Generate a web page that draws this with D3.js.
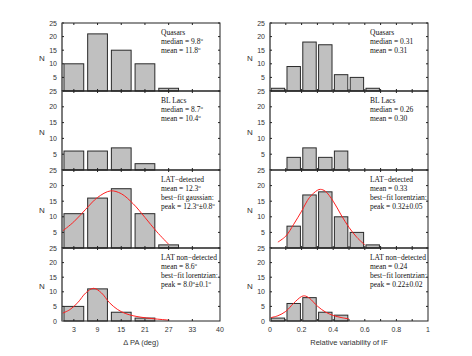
<!DOCTYPE html>
<html>
<head>
<meta charset="utf-8">
<script src="https://cdnjs.cloudflare.com/ajax/libs/d3/7.8.5/d3.min.js"></script>
<style>
  body { margin: 0; background: #fff; }
  svg { display: block; }
  .tick-lbl { font-family: "Liberation Sans", Arial, sans-serif; font-size: 7px; fill: #333; }
  .note { font-family: "Liberation Serif", "Times New Roman", serif; font-size: 7.5px; fill: #111; }
</style>
</head>
<body>
<div class="chart"></div>
<script>
// ---- data ----
var paBinCenters = [3, 9, 15, 21, 27];
var paQuasars = [10, 21, 15, 10, 1];
var paBLLacs  = [6, 6, 7, 2, 0];
var paLatDet  = [11, 16, 19, 11, 1];
var paLatNon  = [5, 11, 3, 1, 0];
var paTicks = [3, 9, 15, 21, 27, 33, 40];

var varBinStarts = [0, 0.1, 0.2, 0.3, 0.4, 0.5, 0.6];
var varQuasars = [1, 9, 18, 17, 6, 5, 1];
var varBLLacs  = [0, 4, 7, 4, 6, 0, 0];
var varLatDet  = [0, 7, 17, 18, 10, 5, 1];
var varLatNon  = [1, 6, 8, 3, 2, 0, 0];
var varTicks = [0, 0.2, 0.4, 0.6, 0.8, 1];
var varMinorTicks = [0.1, 0.2, 0.3, 0.4, 0.5, 0.6, 0.7, 0.8, 0.9];

var nTicks = [5, 10, 15, 20, 25];

// fitted curves, points
var paGaussDet = [[0,5.3],[3,8.4],[6,12.4],[9,16.2],[12.3,18.3],[15,17.4],[18,14.2],[21,9.8],[24,5.2],[27,1.2]];
var paLorNon = [[0,2.6],[2,3.9],[4,6.3],[6,9.6],[8,11.2],[10,9.6],[12,6.3],[14,4],[16,2.6],[18,1.8],[20,1.3],[23,0.8],[27,0.3]];
var varLorDet = [[0.05,1.9],[0.1,3.8],[0.15,7.6],[0.2,11.8],[0.25,16.2],[0.3,18.5],[0.32,18.8],[0.35,18.2],[0.4,15],[0.45,10.6],[0.5,6.6],[0.55,3.4],[0.6,1]];
var varLorNon = [[0,1.1],[0.05,1.8],[0.1,3.3],[0.15,6.1],[0.2,8.4],[0.22,8.6],[0.25,7.8],[0.3,5.1],[0.35,3.1],[0.4,1.9],[0.45,1.2],[0.5,0.7]];

// "|o|" marks a superscript degree "o"
var paNotes = [
  ["Quasars", "median = 9.8|o", "mean = 11.8|o"],
  ["BL Lacs", "median = 8.7|o", "mean = 10.4|o"],
  ["LAT\u2212detected", "mean = 12.3|o", "best\u2212fit gaussian:", "peak = 12.3|o|\u00b10.8|o"],
  ["LAT non\u2212detected", "mean = 8.6|o", "best\u2212fit lorentzian:", "peak = 8.0|o|\u00b10.1|o"]
];
var varNotes = [
  ["Quasars", "median = 0.31", "mean = 0.31"],
  ["BL Lacs", "median = 0.26", "mean = 0.30"],
  ["LAT\u2212detected", "mean = 0.33", "best\u2212fit lorentzian:", "peak = 0.32\u00b10.05"],
  ["LAT non\u2212detected", "mean = 0.24", "best\u2212fit lorentzian:", "peak = 0.22\u00b10.02"]
];

var width = 472, height = 356;
var rowEdges = [23, 91, 170, 248, 321];

var svg = d3.select(".chart").append("svg")
  .attr("width", width)
  .attr("height", height);

var xPA = d3.scaleLinear().domain([0, 40]).range([62, 220]);
var xVar = d3.scaleLinear().domain([0, 1]).range([270, 428]);

function drawColumn(x, rows, binStart, binWidth, barW, curves, notes, ticks, minor, noteX, title) {
  var x0 = x.range()[0], x1 = x.range()[1];
  rows.forEach(function(counts, r) {
    var y = d3.scaleLinear().domain([0, 25]).range([rowEdges[r + 1], rowEdges[r]]);
    var g = svg.append("g").attr("class", "panel");

    // bars
    g.selectAll("rect.bar")
      .data(counts.map(function(c, i) { return {c: c, s: binStart[i]}; }).filter(function(d) { return d.c > 0; }))
      .enter().append("rect")
        .attr("class", "bar")
        .attr("x", function(d) { return x(d.s + (binWidth - barW) / 2); })
        .attr("width", function(d) { return x(d.s + barW) - x(d.s); })
        .attr("y", function(d) { return y(d.c); })
        .attr("height", function(d) { return y(0) - y(d.c); })
        .attr("fill", "#c0c0c0")
        .attr("stroke", "#2a2a2a")
        .attr("stroke-width", 1);

    // fit curve
    if (curves[r]) {
      g.append("path")
        .datum(curves[r])
        .attr("fill", "none")
        .attr("stroke", "#ff2020")
        .attr("stroke-width", 1)
        .attr("d", d3.line()
          .x(function(d) { return x(d[0]); })
          .y(function(d) { return y(d[1]); })
          .curve(d3.curveCatmullRom));
    }

    // frame
    g.append("rect")
      .attr("x", x0).attr("y", rowEdges[r])
      .attr("width", x1 - x0).attr("height", rowEdges[r + 1] - rowEdges[r])
      .attr("fill", "none").attr("stroke", "#222").attr("stroke-width", 1);
    g.append("line")
      .attr("x1", x0).attr("x2", x0)
      .attr("y1", rowEdges[r]).attr("y2", rowEdges[r + 1])
      .attr("stroke", "#777").attr("stroke-width", 1.6);

    // y ticks, inward on both sides
    nTicks.forEach(function(t) {
      g.append("line").attr("x1", x0).attr("x2", x0 + 2).attr("y1", y(t)).attr("y2", y(t)).attr("stroke", "#222");
      g.append("line").attr("x1", x1).attr("x2", x1 - 2).attr("y1", y(t)).attr("y2", y(t)).attr("stroke", "#222");
    });
    var lbls = r === rows.length - 1 ? [0].concat(nTicks) : nTicks;
    g.selectAll("text.ylbl").data(lbls).enter().append("text")
      .attr("class", "tick-lbl ylbl")
      .attr("x", x0 - 5)
      .attr("y", function(d) { return y(d) + 2.5; })
      .attr("text-anchor", "end")
      .text(function(d) { return d; });

    // x ticks on top and bottom, inward
    minor.forEach(function(t) {
      g.append("line").attr("x1", x(t)).attr("x2", x(t)).attr("y1", rowEdges[r]).attr("y2", rowEdges[r] + 2).attr("stroke", "#222");
      g.append("line").attr("x1", x(t)).attr("x2", x(t)).attr("y1", rowEdges[r + 1]).attr("y2", rowEdges[r + 1] - 2).attr("stroke", "#222");
    });

    // N label
    g.append("text")
      .attr("class", "tick-lbl")
      .style("font-size", "8px")
      .attr("x", x0 - 20)
      .attr("y", (rowEdges[r] + rowEdges[r + 1]) / 2 + 4)
      .attr("text-anchor", "middle")
      .text("N");

    // notes, one text per line
    notes[r].forEach(function(line, k) {
      var parts = line.split("|");
      var t = g.append("text").attr("class", "note")
        .attr("x", noteX).attr("y", rowEdges[r] + 12 + k * 9);
      var shift = 0;
      parts.forEach(function(p, j) {
        if (p === "o") {
          t.append("tspan").attr("dy", -3 - shift).style("font-size", "5px").text("o");
          shift = -3;
        } else {
          t.append("tspan").attr("dy", -shift).text(p);
          shift = 0;
        }
      });
    });
  });

  // bottom axis labels
  var yb = rowEdges[rowEdges.length - 1];
  svg.selectAll(null).data(ticks).enter().append("text")
    .attr("class", "tick-lbl")
    .attr("x", function(d) { return x(d); })
    .attr("y", yb + 11)
    .attr("text-anchor", "middle")
    .text(function(d) { return d; });
  svg.append("text")
    .attr("class", "tick-lbl")
    .style("font-size", "7.5px")
    .attr("x", (x0 + x1) / 2)
    .attr("y", yb + 24)
    .attr("text-anchor", "middle")
    .text(title);
}

drawColumn(xPA, [paQuasars, paBLLacs, paLatDet, paLatNon], paBinCenters.map(function(c) { return c - 3; }), 6, 5,
  [null, null, paGaussDet, paLorNon], paNotes, paTicks, paTicks.slice(0, 6), 161, "\u0394 PA (deg)");

drawColumn(xVar, [varQuasars, varBLLacs, varLatDet, varLatNon], varBinStarts, 0.1, 0.085,
  [null, null, varLorDet, varLorNon], varNotes, varTicks, varMinorTicks, 370, "Relative variability of IF");
</script>
</body>
</html>
